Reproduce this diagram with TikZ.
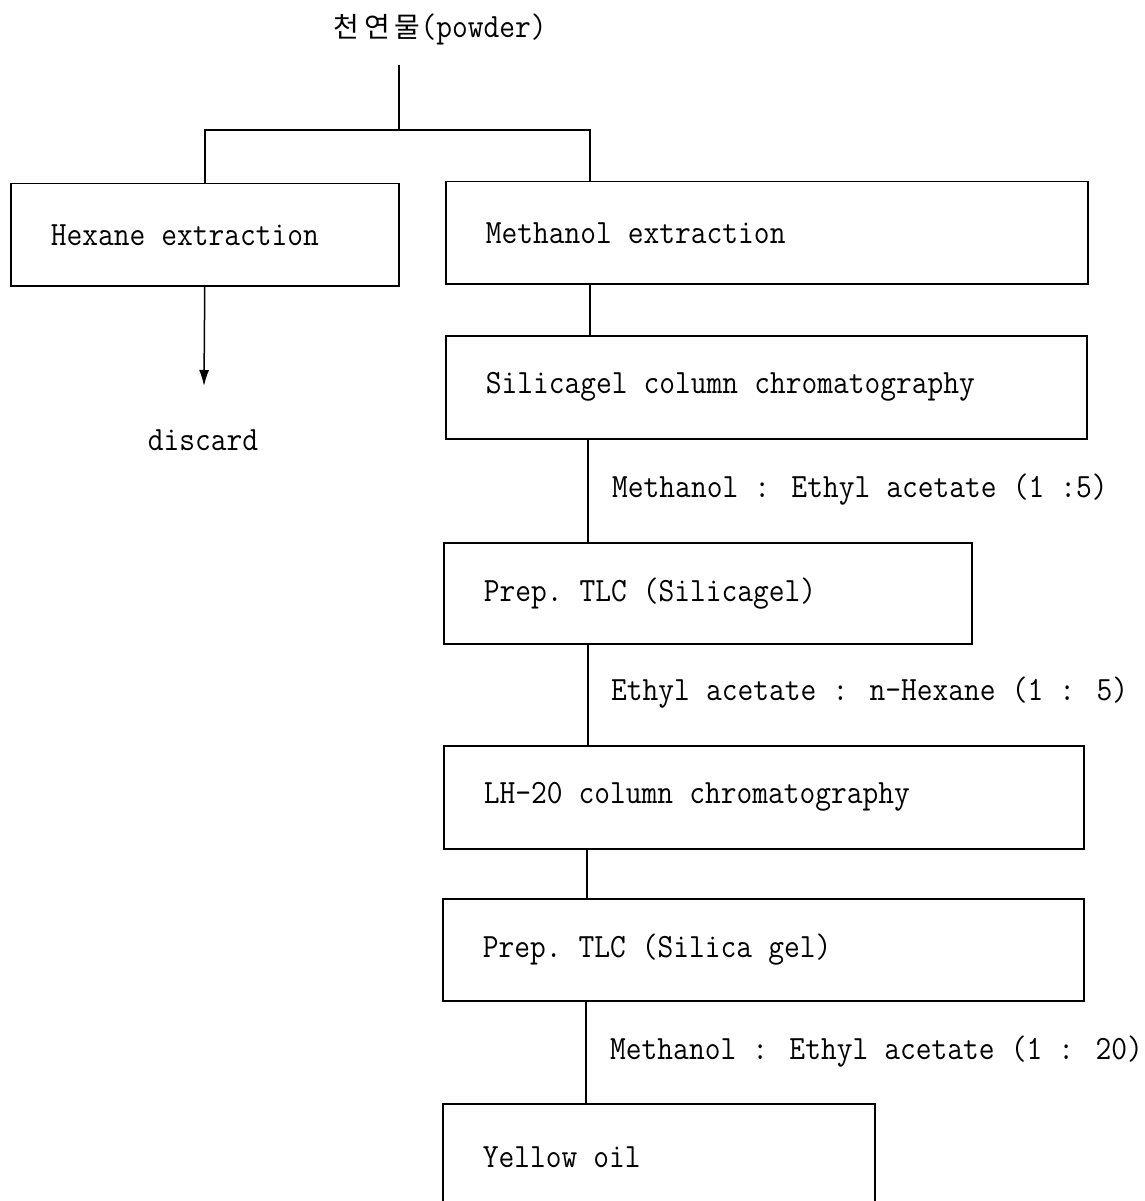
\documentclass[tikz,border=0pt]{standalone}
\usepackage{fontspec}
\newfontfamily\krfont{Noto Sans CJK KR}
\newfontfamily\monofont[FakeStretch=0.9]{Latin Modern Mono}
\newcommand\mysp{\spaceskip=16.1pt\relax}
\usetikzlibrary{arrows.meta,calc}
\begin{document}
\begin{tikzpicture}[x=1pt,y=-1pt,
  every node/.style={font=\fontsize{34}{38}\selectfont\monofont, execute at begin node=\mysp},
  box/.style={draw, line width=1.5pt, anchor=north west, inner xsep=40pt, inner ysep=0pt, align=left},
  conn/.style={line width=1.5pt},
  lbl/.style={anchor=west, inner sep=0pt}]
\useasboundingbox (0,0) rectangle (1144,1201);
\clip (0,0) rectangle (1144,1201);
\fill[white] (0,0) rectangle (1144,1201);
% title
\node[inner sep=0pt] (title) at (440,29) {{\krfont\fontsize{28}{30}\selectfont 천\kern5pt 연\kern5pt 물}(powder)};
% boxes
\node[box, text width=308pt, minimum height=102pt] (hex) at (10,183) {Hexane extraction};
\node[box, text width=562pt, minimum height=102pt] (meth) at (445,181) {Methanol extraction};
\node[box, text width=561pt, minimum height=103pt] (sil) at (445,335) {Silicagel column chromatography};
\node[box, text width=448pt, minimum height=101pt] (tlc) at (443,542) {Prep. TLC (Silicagel)};
\node[box, text width=560pt, minimum height=103pt] (lh) at (443,745) {LH-20 column chromatography};
\node[box, text width=561pt, minimum height=102pt] (tlc2) at (442,898) {Prep. TLC (Silica gel)};
\node[box, text width=352pt, minimum height=106pt] (yel) at (442,1103) {Yellow oil};
% discard
\node[inner sep=0pt] (disc) at (203,440) {discard};
% labels
\node[lbl] (l1) at (612,490) {Methanol : Ethyl acetate (1 :5)};
\node[lbl] (l2) at (611,693) {Ethyl acetate : n-Hexane (1 : 5)};
\node[lbl] (l3) at (610,1052) {Methanol : Ethyl acetate (1 : 20)};
% connector coordinates
\coordinate (top) at (399,65);
\coordinate (junc) at (399,130);
\coordinate (x1) at (590,0);
\coordinate (x2) at (588,0);
\coordinate (x3) at (588,0);
\coordinate (x4) at (587,0);
\coordinate (x5) at (586,0);
\coordinate (dend) at (204,386);
% connectors
\draw[conn] (top) -- (junc);
\draw[conn] (hex.north) |- (junc) -| (x1 |- meth.north);
\draw[conn] (x1 |- meth.south) -- (x1 |- sil.north);
\draw[conn] (x2 |- sil.south) -- (x2 |- tlc.north);
\draw[conn] (x3 |- tlc.south) -- (x3 |- lh.north);
\draw[conn] (x4 |- lh.south) -- (x4 |- tlc2.north);
\draw[conn] (x5 |- tlc2.south) -- (x5 |- yel.north);
\draw[conn, -{Latex[length=16pt, width=10pt]}] (hex.south) -- (dend);
\end{tikzpicture}
\end{document}
